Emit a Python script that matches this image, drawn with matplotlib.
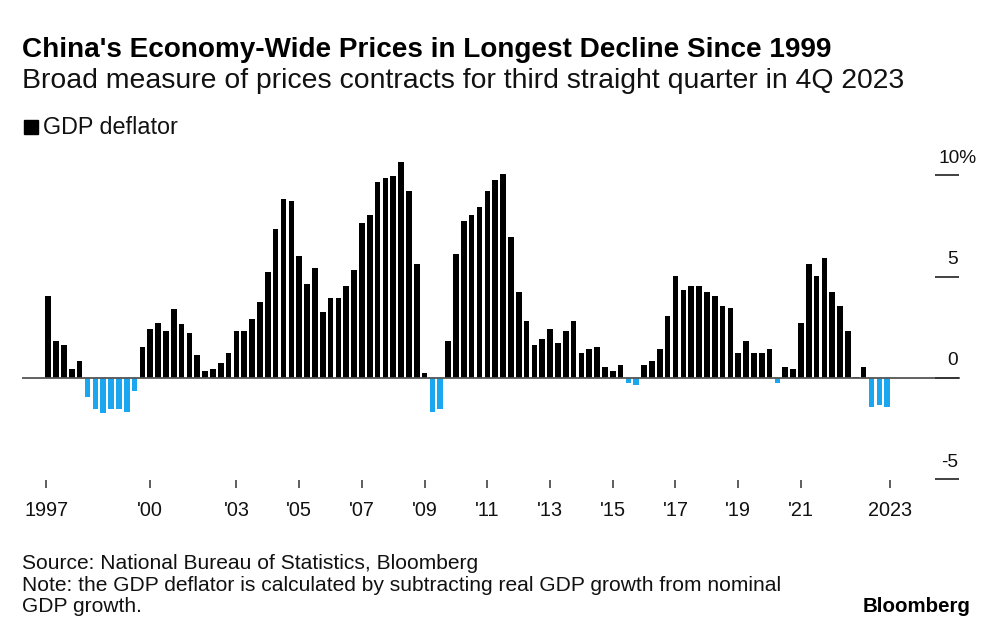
import matplotlib
matplotlib.use("Agg")
import matplotlib.pyplot as plt
import matplotlib.transforms as mtransforms
import numpy as np

# ---------------- data ----------------
deflator = [
    4.05, 1.83, 1.63, 0.43,  0.84, -0.95, -1.55, -1.74,  -1.55, -1.55, -1.66, -0.64,   # 1997-1999
    1.53, 2.43, 2.73, 2.34,  3.42, 2.65, 2.24, 1.12,  0.33, 0.43, 0.72, 1.23,          # 2000-2002
    2.34, 2.34, 2.93, 3.73,  5.23, 7.35, 8.85, 8.75,  6.04, 4.64, 5.44, 3.24,          # 2003-2005
    3.95, 3.95, 4.54, 5.35,  7.65, 8.04, 9.65, 9.85,  9.95, 10.64, 9.24, 5.64,         # 2006-2008
    0.23, -1.66, -1.55, 1.83,  6.13, 7.75, 8.04, 8.44,  9.24, 9.75, 10.05, 6.94,       # 2009-2011
    4.23, 2.83, 1.63, 1.92,  2.43, 1.73, 2.34, 2.83,  1.23, 1.43, 1.53, 0.53,          # 2012-2014
    0.33, 0.63, -0.23, -0.33,  0.63, 0.84, 1.43, 3.04,  5.03, 4.33, 4.54, 4.54,        # 2015-2017
    4.23, 4.03, 3.54, 3.44,  1.23, 1.83, 1.23, 1.23,  1.43, -0.23, 0.53, 0.43,         # 2018-2020
    2.73, 5.64, 5.03, 5.94,  4.23, 3.54, 2.34, 0.05,  0.53, -1.45, -1.35, -1.45,       # 2021-2023
]
tick_labels = ["1997", "'00", "'03", "'05", "'07", "'09", "'11", "'13", "'15",
               "'17", "'19", "'21", "2023"]
tick_index = [-0.25, 13, 24, 32, 40, 48, 56, 64, 72, 80, 88, 96, 107.4]
y_levels = [10, 5, 0, -5]
y_labels = ["10%", "5", "0", "-5"]

title = "China's Economy-Wide Prices in Longest Decline Since 1999"
subtitle = "Broad measure of prices contracts for third straight quarter in 4Q 2023"
legend_label = "GDP deflator"
source = "Source: National Bureau of Statistics, Bloomberg"
note1 = "Note: the GDP deflator is calculated by subtracting real GDP growth from nominal"
note2 = "GDP growth."
brand = "Bloomberg"

# ---------------- style ----------------
FONT = "Liberation Sans"
plt.rcParams["font.family"] = [FONT, "DejaVu Sans"]
POS = "#000000"
NEG = "#1BA6F0"
AXIS = "#555555"

W, H = 1000, 639
fig = plt.figure(figsize=(W / 100, H / 100), dpi=100)
fig.patch.set_facecolor("white")

def fx(px):
    return px / W

def fy(py):
    return 1 - py / H

# axes: pixel box left=22, right=960, top=149, bottom=480
ax = fig.add_axes([fx(22), fy(480), fx(960) - fx(22), fy(149) - fy(480)])
ax.set_facecolor("white")

vals = np.array(deflator)
x = np.arange(len(vals))
colors = [POS if v >= 0 else NEG for v in vals]
ax.bar(x, vals, width=0.72, color=colors, linewidth=0, zorder=2)

x_left = (22 - 48.3) / 7.84
x_right = (960 - 48.3) / 7.84
ax.set_xlim(x_left, x_right)
ax.set_ylim((378 - 480) / 20.26, (378 - 149) / 20.26)

for s in ax.spines.values():
    s.set_visible(False)

# zero line
ax.axhline(0, xmin=0, xmax=0.999, color=AXIS, lw=1.3, zorder=3)

# right y ticks: short segments with labels above
trans = mtransforms.blended_transform_factory(ax.transAxes, ax.transData)
seg_x0 = (935 - 22) / 938
seg_x1 = (959 - 22) / 938
lab_x = (958 - 22) / 938
lab_x_pct = (977 - 22) / 938
for lv, lb in zip(y_levels, y_labels):
    ax.plot([seg_x0, seg_x1], [lv, lv], transform=trans, color="#333333",
            lw=1.3, solid_capstyle="butt", clip_on=False, zorder=3)
    xx = lab_x_pct if lb.endswith("%") else lab_x
    ax.annotate(lb, xy=(xx, lv), xycoords=trans, xytext=(0, 9.2),
                textcoords="offset points", ha="right", va="baseline",
                fontsize=13.8, color="#111111")

ax.set_yticks([])
ax.set_xticks(tick_index)
ax.set_xticklabels(tick_labels, fontsize=14.3, color="#111111")
ax.tick_params(axis="x", direction="out", length=5.8, width=1.1,
               color="#333333", pad=9.5)

# ---------------- text ----------------
def fit(t, target_px):
    fig.canvas.draw()
    bb = t.get_window_extent(fig.canvas.get_renderer())
    if bb.width > 0:
        t.set_fontsize(t.get_fontsize() * target_px / bb.width)

t_title = fig.text(fx(22), fy(56.7), title, fontsize=17.8, fontweight="bold",
                   ha="left", va="baseline", color="black")
t_sub = fig.text(fx(22), fy(88.3), subtitle, fontsize=16.7, ha="left",
                 va="baseline", color="#111111")
# legend
fig.patches.append(plt.Rectangle((fx(24), fy(134)), fx(14), fy(120) - fy(134),
                                 transform=fig.transFigure, color=POS,
                                 figure=fig))
t_leg = fig.text(fx(43), fy(134), legend_label, fontsize=15.2, ha="left",
                 va="baseline", color="#111111")

t_src = fig.text(fx(22), fy(569), source, fontsize=11.5, ha="left",
                 va="baseline", color="#111111")
t_n1 = fig.text(fx(22), fy(591), note1, fontsize=11.5, ha="left",
                va="baseline", color="#111111")
t_n2 = fig.text(fx(22), fy(612), note2, fontsize=11.5, ha="left",
                va="baseline", color="#111111")
t_brand = fig.text(fx(970), fy(612), brand, fontsize=13, fontweight="bold",
                   ha="right", va="baseline", color="black")

fit(t_title, 806)
fit(t_sub, 878)
fit(t_leg, 135)
fit(t_src, 456)
fs = t_src.get_fontsize()
t_n1.set_fontsize(fs)
t_n2.set_fontsize(fs)
fit(t_brand, 108)

fig.savefig("out.png", dpi=100, facecolor="white")
